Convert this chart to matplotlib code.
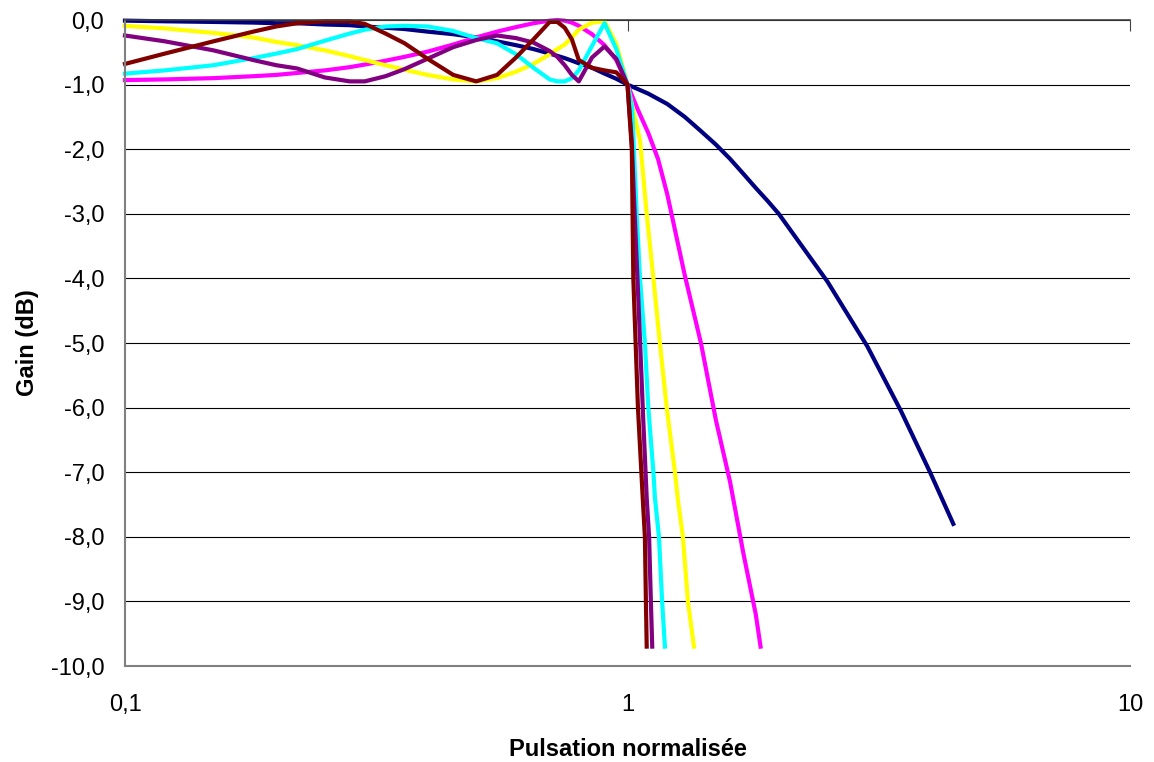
import matplotlib
matplotlib.use("Agg")
from matplotlib import pyplot as plt
from matplotlib.ticker import FixedLocator, FuncFormatter, NullLocator

plt.rcParams["font.family"] = ["Liberation Sans", "DejaVu Sans"]

# passband sample points (normalised pulsation)
W_PASS = [0.1, 0.12, 0.15, 0.18, 0.2, 0.22, 0.25, 0.28, 0.3, 0.33, 0.36, 0.4,
          0.45, 0.5, 0.55, 0.6, 0.65, 0.7, 0.725, 0.75, 0.775, 0.8, 0.85, 0.9, 0.95, 1.0]

# gain (dB), one list per filter order
navy_w = W_PASS + [1.1, 1.2, 1.3, 1.4, 1.5, 1.6, 1.7, 1.8, 1.9, 2.0, 2.5, 3.0, 3.5, 4.0, 4.45]
navy_db = [-0.01, -0.02, -0.03, -0.04, -0.05, -0.05, -0.07, -0.08, -0.10, -0.12, -0.14, -0.18,
           -0.22, -0.27, -0.33, -0.39, -0.45, -0.52, -0.555, -0.59, -0.63, -0.67, -0.74, -0.83, -0.91, -1.0,
           -1.14, -1.30, -1.50, -1.72, -1.93, -2.15, -2.38, -2.60, -2.80, -3.0,
           -4.05, -5.05, -6.05, -7.0, -7.8]

magenta_w = W_PASS + [1.05, 1.1, 1.15, 1.2, 1.3, 1.4, 1.5, 1.6, 1.7, 1.8, 1.84]
magenta_db = [-0.93, -0.92, -0.90, -0.87, -0.85, -0.82, -0.78, -0.73, -0.69, -0.63, -0.57, -0.49,
              -0.38, -0.27, -0.18, -0.11, -0.05, -0.01, 0.0, -0.01, -0.04, -0.09, -0.22, -0.39, -0.62, -1.0,
              -1.40, -1.75, -2.15, -2.70, -3.95, -5.0, -6.2, -7.15, -8.25, -9.2, -9.7]

yellow_w = W_PASS + [1.03, 1.059, 1.092, 1.126, 1.16, 1.197, 1.243, 1.26, 1.289, 1.319, 1.356]
yellow_db = [-0.09, -0.13, -0.20, -0.27, -0.34, -0.39, -0.47, -0.56, -0.62, -0.70, -0.77, -0.85,
             -0.92, -0.95, -0.90, -0.80, -0.68, -0.53, -0.45, -0.38, -0.27, -0.15, -0.04, -0.02, -0.37, -1.0,
             -1.45, -1.86, -3.0, -4.0, -5.0, -6.0, -7.0, -7.43, -8.0, -9.0, -9.7]

cyan_w = W_PASS + [1.021, 1.043, 1.059, 1.083, 1.1, 1.126, 1.134, 1.155, 1.172, 1.187]
cyan_db = [-0.83, -0.78, -0.70, -0.59, -0.52, -0.45, -0.32, -0.21, -0.15, -0.10, -0.09, -0.10,
           -0.17, -0.28, -0.36, -0.53, -0.74, -0.92, -0.95, -0.95, -0.90, -0.78, -0.40, -0.05, -0.45, -1.0,
           -1.35, -3.0, -4.0, -5.0, -6.0, -7.0, -7.4, -8.0, -9.0, -9.7]

purple_w = W_PASS + [1.02, 1.03, 1.05, 1.075, 1.092, 1.104, 1.113, 1.12]
purple_db = [-0.24, -0.33, -0.47, -0.62, -0.70, -0.75, -0.89, -0.95, -0.95, -0.87, -0.76, -0.60,
             -0.42, -0.31, -0.24, -0.28, -0.35, -0.48, -0.57, -0.70, -0.85, -0.95, -0.58, -0.41, -0.60, -1.0,
             -1.9, -2.75, -4.25, -6.2, -7.4, -8.0, -9.0, -9.7]

darkred_w = W_PASS + [1.02, 1.027, 1.049, 1.074, 1.083, 1.088, 1.092]
darkred_db = [-0.68, -0.52, -0.33, -0.18, -0.10, -0.05, -0.02, -0.02, -0.06, -0.21, -0.36, -0.60,
              -0.85, -0.95, -0.85, -0.58, -0.30, -0.03, -0.03, -0.12, -0.30, -0.62, -0.74, -0.78, -0.81, -1.0,
              -2.0, -4.0, -6.0, -7.5, -8.0, -9.0, -9.7]

series = [
    (navy_w, navy_db, "#000080"),
    (magenta_w, magenta_db, "#FF00FF"),
    (yellow_w, yellow_db, "#FFFF00"),
    (cyan_w, cyan_db, "#00FFFF"),
    (purple_w, purple_db, "#800080"),
    (darkred_w, darkred_db, "#800000"),
]

Y_TICKS = list(range(0, -11, -1))
X_TICKS = [0.1, 1, 10]
X_LABELS = ["0,1", "1", "10"]

fig = plt.figure(figsize=(11.54, 7.62), dpi=100)
ax = fig.add_axes([125 / 1154, 1 - 666 / 762, 1005 / 1154, 646 / 762])

for w, db, c in series:
    ax.plot(w, db, color=c, lw=3.0, solid_joinstyle="round", clip_on=False)

ax.set_xscale("log")
ax.set_xlim(0.1, 10)
ax.set_ylim(-10, 0)

ax.xaxis.set_major_locator(FixedLocator(X_TICKS))
ax.xaxis.set_minor_locator(NullLocator())
ax.xaxis.set_major_formatter(FuncFormatter(lambda v, p: X_LABELS[X_TICKS.index(v)] if v in X_TICKS else ""))
ax.yaxis.set_major_locator(FixedLocator(Y_TICKS))
ax.yaxis.set_major_formatter(FuncFormatter(lambda v, p: f"{v:.1f}".replace(".", ",")))

ax.grid(axis="y", color="black", lw=0.8)
ax.set_axisbelow(True)

ax.spines["right"].set_visible(False)
ax.spines["left"].set_color("#808080")
ax.spines["left"].set_linewidth(1.5)
ax.spines["bottom"].set_color("#808080")
ax.spines["bottom"].set_linewidth(1.5)
ax.spines["top"].set_color("#404040")
ax.spines["top"].set_linewidth(1.2)

ax.tick_params(axis="x", top=True, bottom=False, direction="in", length=8,
               color="#404040", labelsize=17, pad=20, labeltop=False, labelbottom=True)
ax.tick_params(axis="y", length=0, labelsize=17, pad=15)

ax.set_xlabel("Pulsation normalisée", fontsize=17, fontweight="bold", labelpad=16)
ax.set_ylabel("Gain (dB)", fontsize=17, fontweight="bold", labelpad=8)

fig.savefig("out.png", dpi=100)
